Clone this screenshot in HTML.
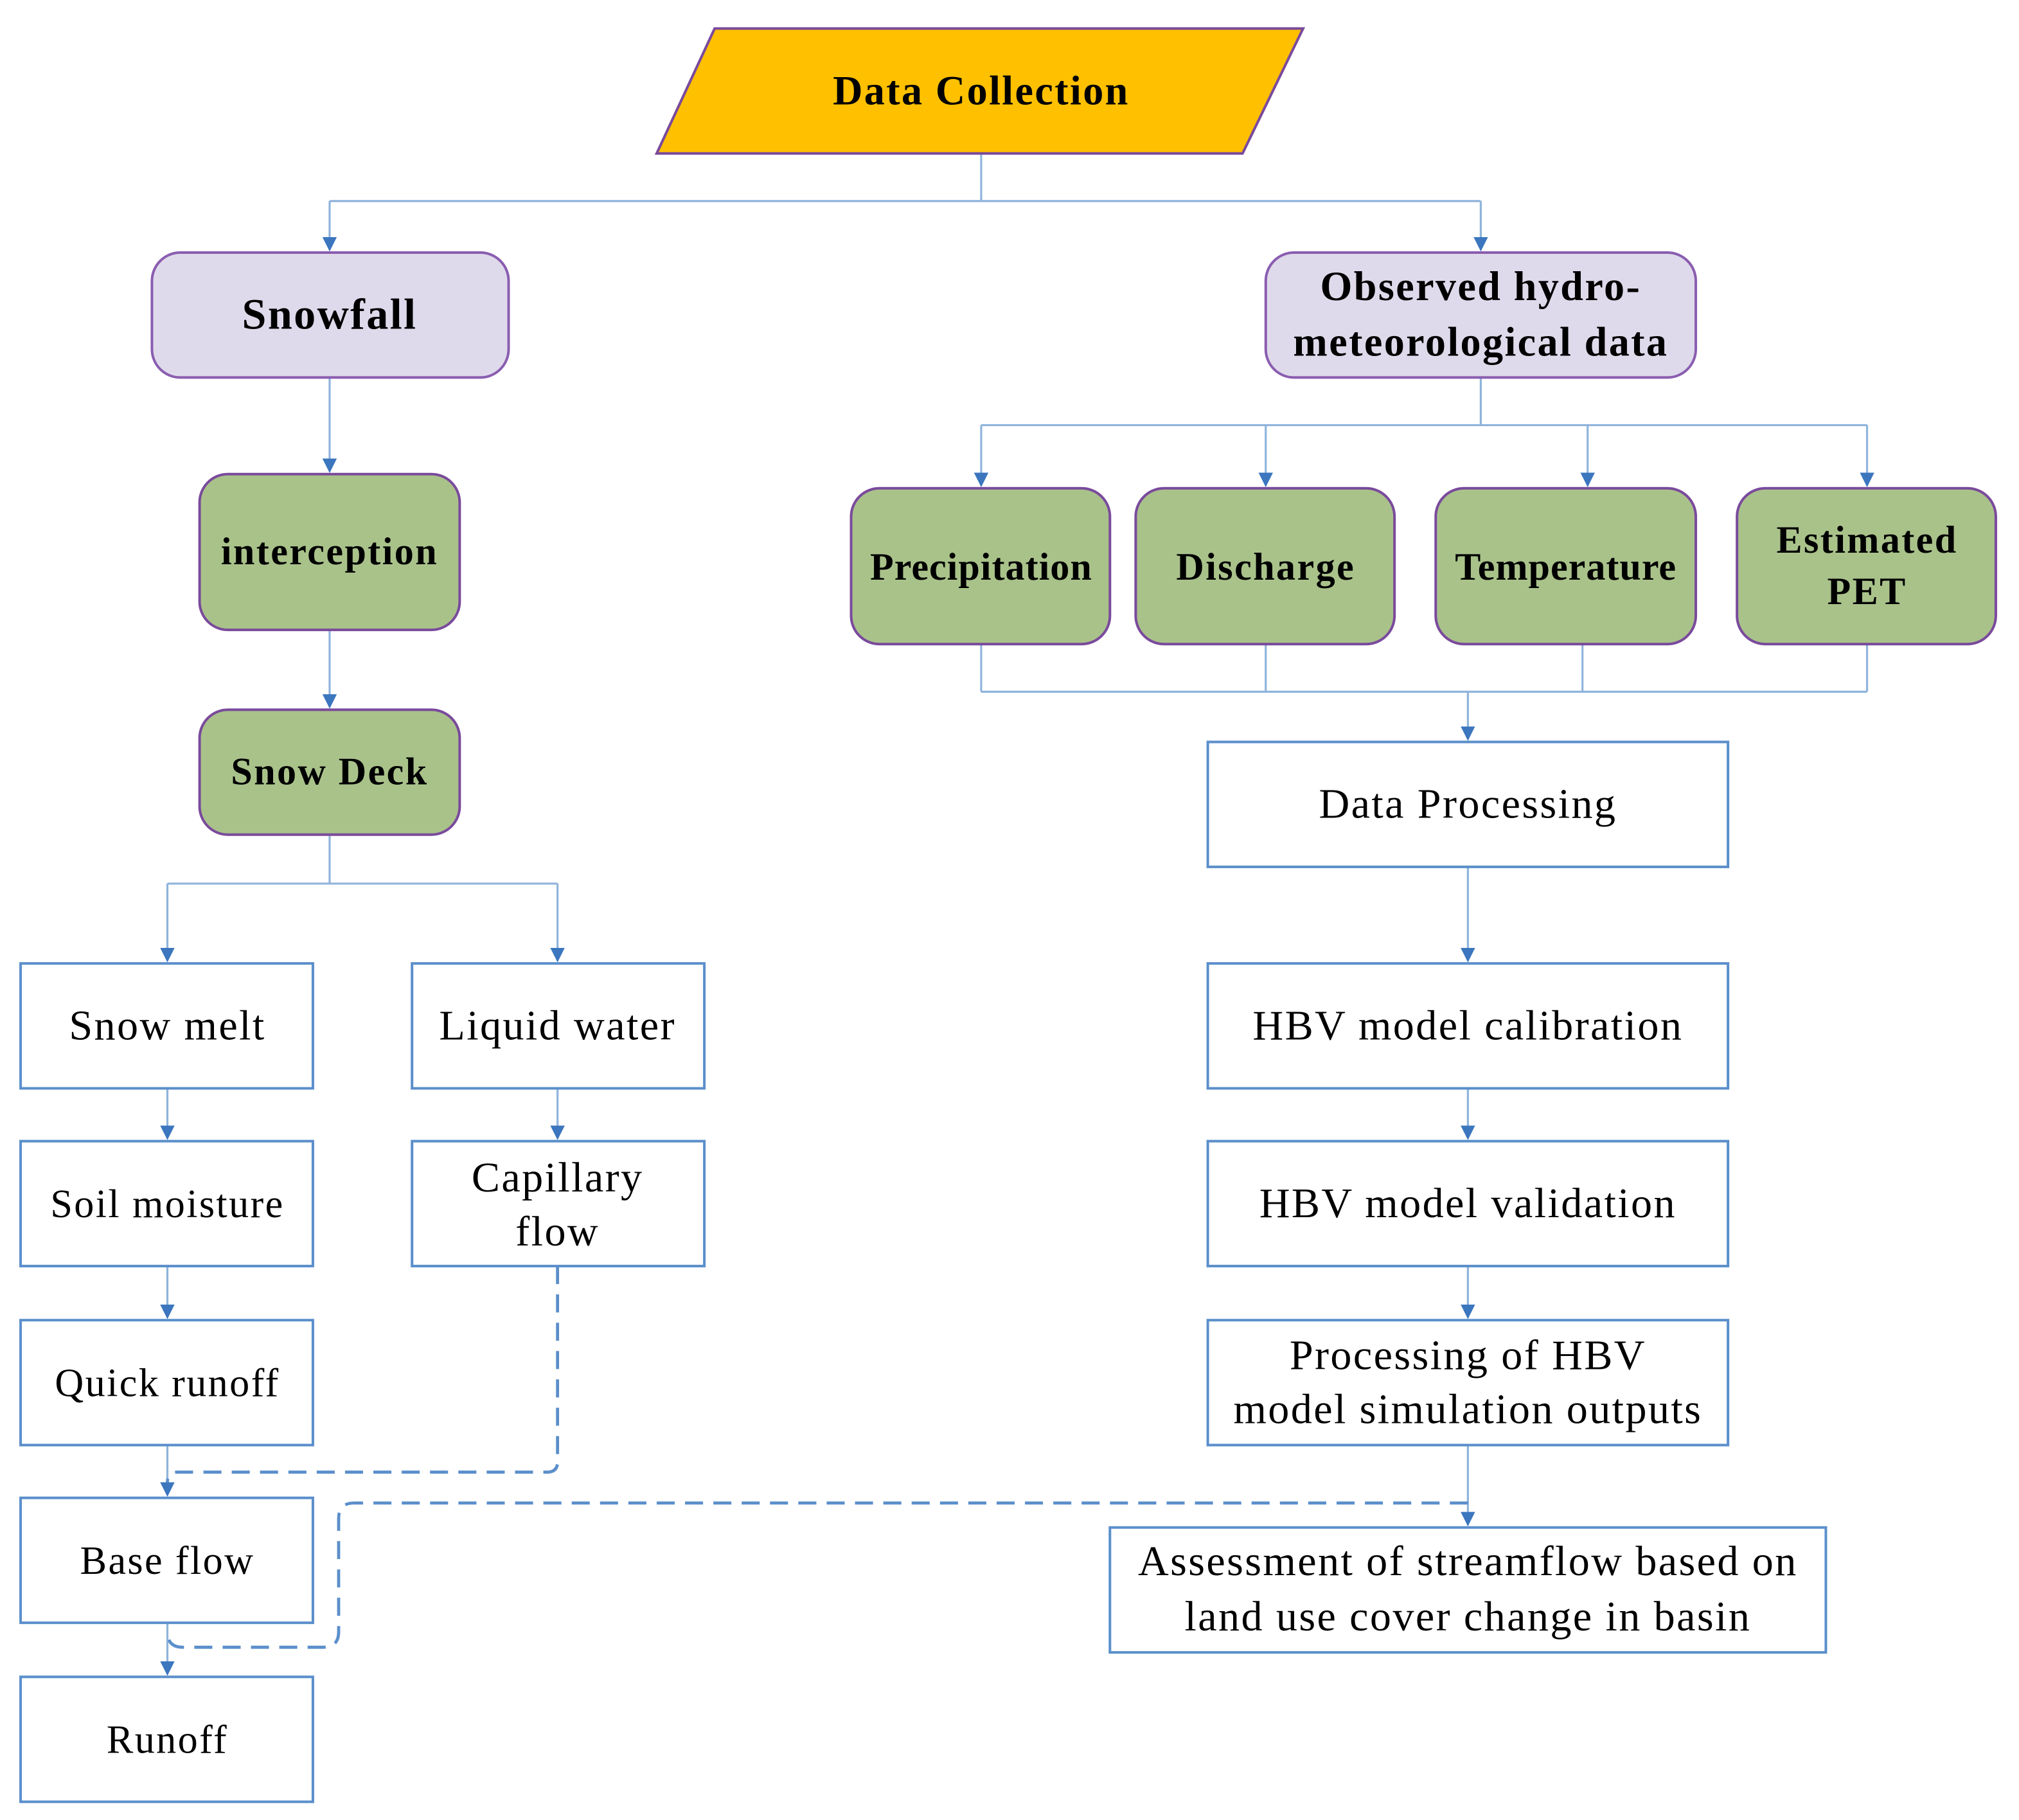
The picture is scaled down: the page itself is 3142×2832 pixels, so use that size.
<!DOCTYPE html>
<html><head><meta charset="utf-8"><style>html,body{margin:0;padding:0;background:#fff}svg{display:block}</style></head>
<body>
<svg width="3142" height="2832" viewBox="0 0 1568 1413" xmlns="http://www.w3.org/2000/svg" font-family="'Liberation Serif', serif">
<defs>
<marker id="a" viewBox="0 0 10 10" refX="9" refY="5" markerWidth="7" markerHeight="7" orient="auto"><path d="M0,0 L10,5 L0,10 z" fill="#3B76BE"/></marker>
</defs>
<rect width="1568" height="1413" fill="#fff"/>
<g fill="none" stroke="#8FB4DC" stroke-width="1.6">
<path d="M762,119 V156 M256,156 H1150"/>
<path d="M256,156 V194" marker-end="url(#a)"/>
<path d="M1150,156 V194" marker-end="url(#a)"/>
<path d="M256,293 V366" marker-end="url(#a)"/>
<path d="M256,489 V549" marker-end="url(#a)"/>
<path d="M256,648 V686 M130,686 H433"/>
<path d="M130,686 V746" marker-end="url(#a)"/>
<path d="M433,686 V746" marker-end="url(#a)"/>
<path d="M130,845 V884" marker-end="url(#a)"/>
<path d="M433,845 V884" marker-end="url(#a)"/>
<path d="M130,983 V1023" marker-end="url(#a)"/>
<path d="M130,1122 V1161" marker-end="url(#a)"/>
<path d="M130,1260 V1300" marker-end="url(#a)"/>
<path d="M1150,293 V330 M762,330 H1450"/>
<path d="M762,330 V377" marker-end="url(#a)"/>
<path d="M983,330 V377" marker-end="url(#a)"/>
<path d="M1233,330 V377" marker-end="url(#a)"/>
<path d="M1450,330 V377" marker-end="url(#a)"/>
<path d="M762,500 V537 M983,500 V537 M1229,500 V537 M1450,500 V537 M762,537 H1450"/>
<path d="M1140,537 V574" marker-end="url(#a)"/>
<path d="M1140,673 V746" marker-end="url(#a)"/>
<path d="M1140,845 V884" marker-end="url(#a)"/>
<path d="M1140,983 V1023" marker-end="url(#a)"/>
<path d="M1140,1122 V1184" marker-end="url(#a)"/>
</g>
<g fill="none" stroke="#5B8FCB" stroke-width="2.4" stroke-dasharray="14,8">
<path d="M433,983 V1135 Q433,1143 425,1143 H138 Q130,1143 130,1151"/>
<path d="M1140,1167 H275 Q263,1167 263,1179 V1267 Q263,1279 251,1279 H142 Q130,1279 130,1267"/>
</g>
<polygon points="555,22 1012,22 965,119 510,119" fill="#FFC000" stroke="#7A4A9C" stroke-width="2"/>
<g fill="#DFDAEB" stroke="#8A5DB0" stroke-width="2">
<rect x="118" y="196" width="277" height="97" rx="22"/>
<rect x="983" y="196" width="334" height="97" rx="22"/>
</g>
<g fill="#A9C28A" stroke="#7A4A9C" stroke-width="2">
<rect x="155" y="368" width="202" height="121" rx="22"/>
<rect x="155" y="551" width="202" height="97" rx="22"/>
<rect x="661" y="379" width="201" height="121" rx="22"/>
<rect x="882" y="379" width="201" height="121" rx="22"/>
<rect x="1115" y="379" width="202" height="121" rx="22"/>
<rect x="1349" y="379" width="201" height="121" rx="22"/>
</g>
<g fill="#fff" stroke="#5B8FCB" stroke-width="2">
<rect x="16" y="748" width="227" height="97"/>
<rect x="320" y="748" width="227" height="97"/>
<rect x="16" y="886" width="227" height="97"/>
<rect x="320" y="886" width="227" height="97"/>
<rect x="16" y="1025" width="227" height="97"/>
<rect x="16" y="1163" width="227" height="97"/>
<rect x="16" y="1302" width="227" height="97"/>
<rect x="938" y="576" width="404" height="97"/>
<rect x="938" y="748" width="404" height="97"/>
<rect x="938" y="886" width="404" height="97"/>
<rect x="938" y="1025" width="404" height="97"/>
<rect x="862" y="1186" width="556" height="97"/>
</g>
<g text-anchor="middle" font-weight="bold" fill="#000" font-size="32" letter-spacing="1.2">
<text x="762" y="81">Data Collection</text>
<text x="256" y="255" font-size="34">Snowfall</text>
<text x="1150" y="233" font-size="32">Observed hydro-</text>
<text x="1150" y="276" font-size="32">meteorological data</text>
<text x="256" y="438" font-size="30">interception</text>
<text x="256" y="609" font-size="30">Snow Deck</text>
<text x="762" y="450" font-size="30" letter-spacing="0.5">Precipitation</text>
<text x="983" y="450" font-size="30">Discharge</text>
<text x="1216" y="450" font-size="30" letter-spacing="0.5">Temperature</text>
<text x="1450" y="429" font-size="30">Estimated</text>
<text x="1450" y="469" font-size="30">PET</text>
</g>
<g text-anchor="middle" fill="#000" font-size="33" letter-spacing="1.2">
<text x="130" y="807">Snow melt</text>
<text x="433" y="807">Liquid water</text>
<text x="130" y="945" font-size="31">Soil moisture</text>
<text x="433" y="925">Capillary</text>
<text x="433" y="967">flow</text>
<text x="130" y="1084" font-size="31">Quick runoff</text>
<text x="130" y="1222" font-size="31">Base flow</text>
<text x="130" y="1361" font-size="31">Runoff</text>
<text x="1140" y="635">Data Processing</text>
<text x="1140" y="807">HBV model calibration</text>
<text x="1140" y="945">HBV model validation</text>
<text x="1140" y="1063">Processing of HBV</text>
<text x="1140" y="1105">model simulation outputs</text>
<text x="1140" y="1223">Assessment of streamflow based on</text>
<text x="1140" y="1266">land use cover change in basin</text>
</g>
</svg>
</body></html>
